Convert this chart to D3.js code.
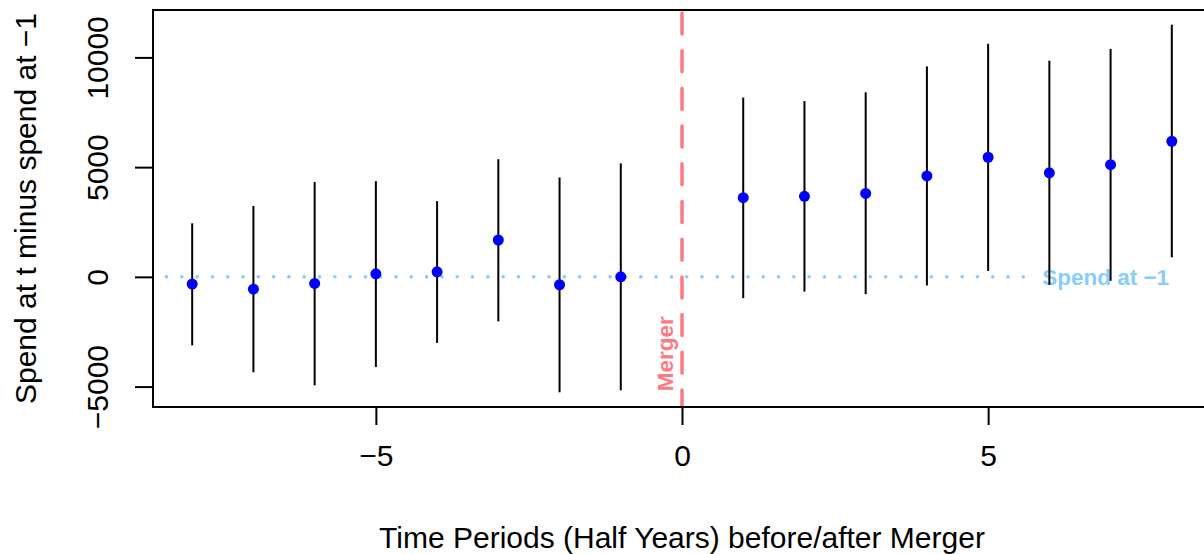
<!DOCTYPE html>
<html>
<head>
<meta charset="utf-8">
<script src="https://cdn.jsdelivr.net/npm/d3@7"></script>
<style>
    body { margin: 0; background: #fff; }
    svg { display: block; font-family: "Liberation Sans", Arial, Helvetica, sans-serif; }
</style>
</head>
<body>
<svg id="chart" width="1204" height="554"></svg>
<script>
// half-year periods around the merger (period 0 is the merger itself)
const periods = [-8, -7, -6, -5, -4, -3, -2, -1, 1, 2, 3, 4, 5, 6, 7, 8]
const estimate = [-330, -560, -300, 140, 230, 1680, -360, 0, 3610, 3670, 3800, 4600, 5450, 4740, 5110, 6180]
const lower = [-3120, -4350, -4940, -4110, -3010, -2030, -5260, -5170, -970, -670, -790, -390, 270, -360, -180, 890]
const upper = [2440, 3230, 4320, 4360, 3450, 5360, 4530, 5170, 8170, 8010, 8410, 9590, 10620, 9850, 10390, 11490]

const xTicks = [-5, 0, 5]
const yTicks = [-5000, 0, 5000, 10000]

const MINUS = "\u2212"
const fmt = d => d < 0 ? MINUS + Math.abs(d) : String(d)

const svg = d3.select("#chart")

// plot region, right edge runs past the window like the reference
const plot = {left: 153, top: 10, right: 1211, bottom: 407}

// R style 4% padding on both axes
function padded(lo, hi) {
    const r = hi - lo
    return [lo - 0.04 * r, hi + 0.04 * r]
}

const x = d3.scaleLinear()
    .domain(padded(d3.min(periods), d3.max(periods)))
    .range([plot.left, plot.right])

const y = d3.scaleLinear()
    .domain(padded(d3.min(lower), d3.max(upper)))
    .range([plot.bottom, plot.top])

const rows = periods.map((p, i) => ({p, est: estimate[i], lo: lower[i], hi: upper[i]}))

// reference line at spend of period -1
svg.append("line")
    .attr("x1", x(-8.42)).attr("x2", x(5.6))
    .attr("y1", y(0)).attr("y2", y(0))
    .attr("stroke", "#87cefa")
    .attr("stroke-width", 3.6)
    .attr("stroke-linecap", "round")
    .attr("stroke-dasharray", "0.1 15.2")

svg.append("text")
    .attr("x", x(6.92))
    .attr("y", y(0))
    .attr("dy", "0.36em")
    .attr("text-anchor", "middle")
    .attr("font-size", 22.5)
    .attr("font-weight", "bold")
    .attr("fill", "#87cefa")
    .text("Spend at " + MINUS + "1")

// merger marker
svg.append("line")
    .attr("x1", x(0)).attr("x2", x(0))
    .attr("y1", plot.top + 3).attr("y2", plot.bottom)
    .attr("stroke", "#ff7a80")
    .attr("stroke-width", 3.5)
    .attr("stroke-linecap", "round")
    .attr("stroke-dasharray", "21 16.7")

svg.append("text")
    .attr("transform", `translate(${x(0) - 9},${y(-3500)}) rotate(-90)`)
    .attr("text-anchor", "middle")
    .attr("font-size", 22.5)
    .attr("font-weight", "bold")
    .attr("fill", "#ff7a80")
    .text("Merger")

// confidence intervals
svg.append("g")
    .selectAll("line")
    .data(rows)
    .join("line")
    .attr("x1", d => x(d.p)).attr("x2", d => x(d.p))
    .attr("y1", d => y(d.lo)).attr("y2", d => y(d.hi))
    .attr("stroke", "#000")
    .attr("stroke-width", 2)

// point estimates
svg.append("g")
    .selectAll("circle")
    .data(rows)
    .join("circle")
    .attr("cx", d => x(d.p))
    .attr("cy", d => y(d.est))
    .attr("r", 5.5)
    .attr("fill", "#0000ff")

// box
svg.append("rect")
    .attr("x", plot.left).attr("y", plot.top)
    .attr("width", plot.right - plot.left)
    .attr("height", plot.bottom - plot.top)
    .attr("fill", "none")
    .attr("stroke", "#000")
    .attr("stroke-width", 2)

// axes
const xAxis = svg.append("g")
    .attr("transform", `translate(0,${plot.bottom})`)
    .call(d3.axisBottom(x).tickValues(xTicks).tickFormat(fmt).tickSize(18).tickPadding(20))
xAxis.select(".domain").attr("d", `M${x(-5)},0H${x(5)}`).attr("stroke-width", 2)
xAxis.selectAll(".tick line").attr("stroke-width", 2)
xAxis.selectAll(".tick text")
    .attr("font-size", 30)
    .attr("font-family", null)
    .attr("fill", "#000")

const yAxis = svg.append("g")
    .attr("transform", `translate(${plot.left},0)`)
    .call(d3.axisLeft(y).tickValues(yTicks).tickFormat(fmt).tickSize(18))
yAxis.select(".domain").attr("d", `M0,${y(-5000)}V${y(10000)}`).attr("stroke-width", 2)
yAxis.selectAll(".tick line").attr("stroke-width", 2)
yAxis.selectAll(".tick text")
    .attr("x", null).attr("dy", null)
    .attr("transform", "translate(-45,0) rotate(-90)")
    .attr("text-anchor", "middle")
    .attr("font-size", 30)
    .attr("font-family", null)
    .attr("fill", "#000")

svg.selectAll(".domain, .tick line").attr("stroke", "#000")

// axis titles
svg.append("text")
    .attr("x", x(0))
    .attr("y", 548)
    .attr("text-anchor", "middle")
    .attr("font-size", 30)
    .text("Time Periods (Half Years) before/after Merger")

svg.append("text")
    .attr("transform", `translate(36,${(plot.top + plot.bottom) / 2}) rotate(-90)`)
    .attr("text-anchor", "middle")
    .attr("font-size", 30)
    .text("Spend at t minus spend at " + MINUS + "1")
</script>
</body>
</html>
